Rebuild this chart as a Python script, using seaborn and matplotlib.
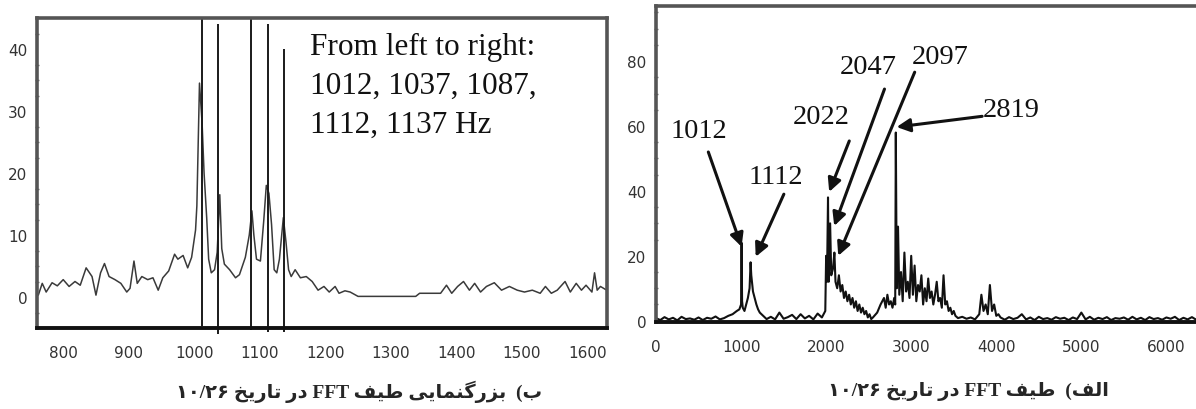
import matplotlib
matplotlib.use("Agg")
import matplotlib.pyplot as plt
import seaborn as sns

# zoomed spectrum (left panel)
zoom_hz = [762, 768, 774, 783, 791, 800, 809, 818, 826, 835, 844, 850, 857, 863, 870, 879,
           888, 897, 902, 908, 913, 920, 929, 937, 945, 952, 961, 970, 975, 983, 990, 996,
           1002, 1004, 1008, 1012, 1015, 1019, 1022, 1026, 1031, 1035, 1039, 1042, 1046,
           1054, 1063, 1069, 1078, 1084, 1088, 1091, 1095, 1101, 1106, 1110, 1114, 1118,
           1122, 1126, 1130, 1136, 1140, 1144, 1148, 1154, 1162, 1171, 1180, 1189, 1198,
           1206, 1215, 1221, 1230, 1238, 1250, 1338, 1344, 1376, 1385, 1393, 1402, 1411,
           1420, 1428, 1437, 1446, 1458, 1469, 1481, 1493, 1504, 1516, 1528, 1536, 1545,
           1554, 1566, 1574, 1583, 1591, 1598, 1607, 1611, 1615, 1620, 1628]
zoom_amp = [0.3, 2.2, 0.8, 2.3, 1.8, 2.8, 1.7, 2.5, 1.9, 4.7, 3.3, 0.3, 3.9, 5.4, 3.3, 2.8,
            2.2, 0.8, 1.4, 5.8, 2.2, 3.3, 2.8, 3.1, 1.1, 3.1, 4.2, 6.9, 6.1, 6.7, 4.7, 6.4,
            10.8, 14.7, 34.5, 28.0, 20.0, 12.8, 6.1, 3.9, 4.4, 7.2, 16.5, 7.8, 5.3,
            4.4, 3.1, 3.6, 6.4, 10.0, 13.9, 10.0, 6.1, 5.8, 12.2, 18.0, 16.7, 11.7,
            4.4, 3.9, 6.1, 12.8, 8.9, 4.4, 3.3, 4.4, 3.1, 3.3, 2.5, 1.1, 1.7,
            0.8, 1.7, 0.6, 1.0, 0.8, 0.1, 0.1, 0.6, 0.6, 1.9, 0.6, 1.7, 2.5,
            1.1, 2.2, 0.8, 1.7, 2.3, 1.1, 1.7, 1.1, 0.8, 1.1, 0.6, 1.7, 0.6,
            1.1, 2.5, 0.8, 2.2, 1.1, 1.9, 0.8, 3.9, 1.1, 1.7, 1.2]

# clipped component lines in the zoom
peak_hz = [1012, 1037, 1087, 1112, 1137]
peak_top = [45, 44, 45, 44, 40]
peak_bottom = [-4.6, -5.9, -5.3, -5.6, -5.6]

# full spectrum (right panel)
full_hz = [0, 50, 100, 150, 200, 250, 300, 350, 400, 450, 500, 550, 600, 650, 700, 750,
           800, 850, 900, 950,
           980, 1000, 1006, 1012, 1020, 1040, 1060, 1080, 1100, 1112, 1120, 1140, 1160,
           1180, 1200, 1220, 1240, 1260, 1280, 1300,
           1350, 1400, 1450, 1500, 1550, 1600, 1650, 1700, 1750, 1800, 1850, 1900, 1950,
           1990, 2000, 2010, 2022, 2030, 2047, 2060, 2080, 2097, 2110, 2130, 2150, 2170,
           2190, 2210, 2230, 2250, 2270, 2290, 2310, 2330, 2350, 2370, 2390, 2410, 2430,
           2450, 2470, 2490, 2510, 2530, 2550, 2600, 2640, 2680, 2700, 2720, 2740, 2760,
           2780, 2800, 2812, 2819, 2830, 2845, 2860, 2880, 2900, 2920, 2940, 2960, 2980,
           3000, 3020, 3040, 3060, 3080, 3100, 3120, 3140, 3160, 3180, 3200, 3220, 3240,
           3260, 3280, 3300, 3320, 3340, 3360, 3380, 3400, 3420, 3440, 3460, 3480, 3500,
           3520, 3550, 3600, 3650, 3700, 3750, 3800, 3825, 3850, 3875, 3900, 3925, 3950,
           3975, 4000, 4025, 4050, 4100, 4150, 4200, 4250, 4300, 4350, 4400, 4450, 4500,
           4550, 4600, 4650, 4700, 4750, 4800, 4850, 4900, 4950, 5000, 5050, 5100, 5150,
           5200, 5250, 5300, 5350, 5400, 5450, 5500, 5550, 5600, 5650, 5700, 5750, 5800,
           5850, 5900, 5950, 6000, 6050, 6100, 6150, 6200, 6250, 6300, 6350, 6390]
full_amp = [0.8, 0.2, 1.1, 0.4, 0.9, 0.1, 1.2, 0.5, 0.7, 0.3, 1.0, 0.2, 0.9, 0.6, 1.3, 0.4,
            0.8, 1.5, 2.0, 3.0,
            3.5, 5.0, 24.0, 6.0, 4.0, 3.0, 5.0, 7.0, 10.0, 18.0, 14.0, 9.0, 7.0,
            5.0, 3.5, 2.5, 2.0, 1.5, 1.0, 0.5,
            1.2, 0.4, 2.5, 0.6, 1.1, 1.8, 0.5, 2.0, 0.7, 1.5, 0.4, 2.2, 1.0,
            3.0, 20.0, 12.0, 38.0, 12.0, 30.0, 14.0, 16.0, 21.0, 12.0, 10.0, 14.0, 9.0,
            11.0, 7.0, 9.0, 6.0, 8.0, 5.0, 7.0, 4.0, 6.0, 3.0, 5.0, 2.5, 4.0,
            2.0, 3.0, 1.0, 2.0, 0.5, 1.0, 2.5, 5.0, 7.0, 4.0, 8.0, 5.0, 6.0,
            4.0, 7.0, 5.0, 58.0, 10.0, 29.0, 8.0, 15.0, 6.0, 21.0, 9.0, 12.0, 7.0,
            20.0, 8.0, 17.0, 6.0, 11.0, 9.0, 14.0, 5.0, 10.0, 6.0, 13.0, 7.0, 9.0,
            5.0, 8.0, 12.0, 6.0, 7.0, 4.0, 14.0, 5.0, 6.0, 3.0, 4.0, 2.0, 3.0,
            1.5, 0.8, 1.2, 0.6, 1.0, 0.4, 2.0, 8.0, 3.0, 5.0, 2.0, 11.0, 3.0,
            5.0, 1.5, 2.0, 1.0, 0.3, 1.1, 0.5, 0.9, 2.0, 0.4, 1.0, 0.2, 1.2,
            0.5, 0.8, 0.3, 1.1, 0.6, 0.9, 0.2, 1.0, 0.5, 2.5, 0.4, 1.2, 0.3,
            0.9, 0.5, 1.1, 0.2, 0.8, 0.6, 1.0, 0.3, 1.2, 0.4, 0.9, 0.2, 1.1,
            0.5, 0.8, 0.3, 1.0, 0.6, 1.2, 0.2, 0.9, 0.4, 1.1, 0.3, 0.8]

# labelled components (right panel): label text, text position, arrow tail, arrow head
comp_labels = ["1012", "1112", "2022", "2047", "2097", "2819"]
label_x = [509, 1408, 1941, 2497, 3337, 4178]
label_y = [58.5, 44.6, 62.8, 78.5, 81.5, 65.2]
tail_x = [615, 1503, 2272, 2686, 3041, 3834]
tail_y = [52, 39, 55.4, 71.4, 76.6, 63]
head_x = [1006, 1172, 2036, 2095, 2142, 2828]
head_y = [22.8, 19.7, 39.7, 29.2, 20, 59.7]

zoom_note = "From left to right:\n1012, 1037, 1087,\n1112, 1137 Hz"
caption_left = "ب)  بزرگنمایی طیف FFT در تاریخ ۱۰/۲۶"
caption_right = "الف)  طیف FFT در تاریخ ۱۰/۲۶"

# matplotlib has no Arabic shaping, so pick presentation forms and reorder by hand
FORMS = {
    'ا': ('\uFE8D', '\uFE8E', None, None),
    'ب': ('\uFE8F', '\uFE90', '\uFE91', '\uFE92'),
    'ت': ('\uFE95', '\uFE96', '\uFE97', '\uFE98'),
    'خ': ('\uFEA5', '\uFEA6', '\uFEA7', '\uFEA8'),
    'د': ('\uFEA9', '\uFEAA', None, None),
    'ر': ('\uFEAD', '\uFEAE', None, None),
    'ز': ('\uFEAF', '\uFEB0', None, None),
    'ط': ('\uFEC1', '\uFEC2', '\uFEC3', '\uFEC4'),
    'ف': ('\uFED1', '\uFED2', '\uFED3', '\uFED4'),
    'ل': ('\uFEDD', '\uFEDE', '\uFEDF', '\uFEE0'),
    'م': ('\uFEE1', '\uFEE2', '\uFEE3', '\uFEE4'),
    'ن': ('\uFEE5', '\uFEE6', '\uFEE7', '\uFEE8'),
    'گ': ('\uFB92', '\uFB93', '\uFB94', '\uFB95'),
    'ی': ('\uFBFC', '\uFBFD', '\uFBFE', '\uFBFF'),
}
MIRROR = {'(': ')', ')': '('}


def shape(s):
    out = []
    for i, ch in enumerate(s):
        if ch not in FORMS:
            out.append(ch)
            continue
        prev = s[i - 1] if i > 0 else ''
        nxt = s[i + 1] if i + 1 < len(s) else ''
        join_prev = prev in FORMS and FORMS[prev][2] is not None
        join_next = FORMS[ch][2] is not None and nxt in FORMS
        iso, fin, ini, med = FORMS[ch]
        if join_prev and join_next:
            out.append(med)
        elif join_prev:
            out.append(fin)
        elif join_next:
            out.append(ini)
        else:
            out.append(iso)
    return ''.join(out)


def rtl(s):
    s = shape(s)
    runs = []
    for ch in s:
        ltr = (ch.isascii() and ch.isalnum()) or ('\u06f0' <= ch <= '\u06f9') or ch == '/'
        if runs and runs[-1][0] == ltr:
            runs[-1][1].append(ch)
        else:
            runs.append((ltr, [ch]))
    parts = []
    for ltr, chars in reversed(runs):
        if ltr:
            parts.append(''.join(chars))
        else:
            parts.append(''.join(MIRROR.get(c, c) for c in reversed(chars)))
    return ''.join(parts)


sns.set_style("white")
plt.rcParams['font.family'] = ['DejaVu Sans']

W, H = 1196, 410
fig = plt.figure(figsize=(W / 100, H / 100), dpi=100)
ax1 = fig.add_axes([37 / W, 1 - 329 / H, (607 - 37) / W, (329 - 19) / H])
ax2 = fig.add_axes([656 / W, 1 - 323 / H, (W - 656) / W + 0.003, (323 - 7) / H])

# left: zoomed spectrum
sns.lineplot(x=zoom_hz, y=zoom_amp, ax=ax1, color="#3a3a3a", linewidth=1.1, estimator=None)
ax1.vlines(peak_hz, peak_bottom, peak_top, colors="#1a1a1a", linewidth=1.4, clip_on=False)
ax1.set_xlim(760, 1630)
ax1.set_ylim(-4.6, 45)
ax1.set_xticks([800, 900, 1000, 1100, 1200, 1300, 1400, 1500, 1600])
ax1.set_yticks([0, 10, 20, 30, 40])
ax1.set_yticks([-5 + 2.5 * i for i in range(20)], minor=True)
ax1.text(1177, 34.1, zoom_note, family="Liberation Serif", fontsize=22.5,
         ha="left", va="center", linespacing=1.45, color="#111111")

# right: full spectrum
sns.lineplot(x=full_hz, y=full_amp, ax=ax2, color="#111111", linewidth=1.5, estimator=None)
ax2.set_xlim(0, 6390)
ax2.set_ylim(-0.4, 97)
ax2.set_xticks([0, 1000, 2000, 3000, 4000, 5000, 6000])
ax2.set_yticks([0, 20, 40, 60, 80])
ax2.set_yticks([5 * i for i in range(20)], minor=True)
for i, lab in enumerate(comp_labels):
    ax2.text(label_x[i], label_y[i], lab, family="Liberation Serif", fontsize=20.5,
             ha="center", va="center", color="#111111")
    ax2.annotate("", xy=(head_x[i], head_y[i]), xytext=(tail_x[i], tail_y[i]),
                 arrowprops=dict(arrowstyle="-|>", color="#111111", lw=2.2,
                                 mutation_scale=20, shrinkA=0, shrinkB=0))

for ax in (ax1, ax2):
    ax.set_xlabel("")
    ax.set_ylabel("")
    for side in ("left", "top", "right"):
        ax.spines[side].set_color("#555555")
        ax.spines[side].set_linewidth(2.6)
    ax.spines["bottom"].set_color("#111111")
    ax.spines["bottom"].set_linewidth(2.8)
    ax.tick_params(axis="both", which="major", length=0, labelsize=11, labelcolor="#333333")
    ax.tick_params(axis="y", which="minor", left=True, length=3, width=1,
                   direction="inout", color="#777777")
    ax.tick_params(axis="x", pad=12)
    ax.tick_params(axis="y", pad=7)
ax2.spines["right"].set_visible(False)

cap_font = ["Liberation Serif", "DejaVu Sans"]
fig.text(359 / W, 1 - 392 / H, rtl(caption_left), family=cap_font, fontsize=14,
         fontweight="bold", ha="center", va="center")
fig.text(968 / W, 1 - 392 / H, rtl(caption_right), family=cap_font, fontsize=14,
         fontweight="bold", ha="center", va="center")

fig.savefig("out.png", dpi=100)
